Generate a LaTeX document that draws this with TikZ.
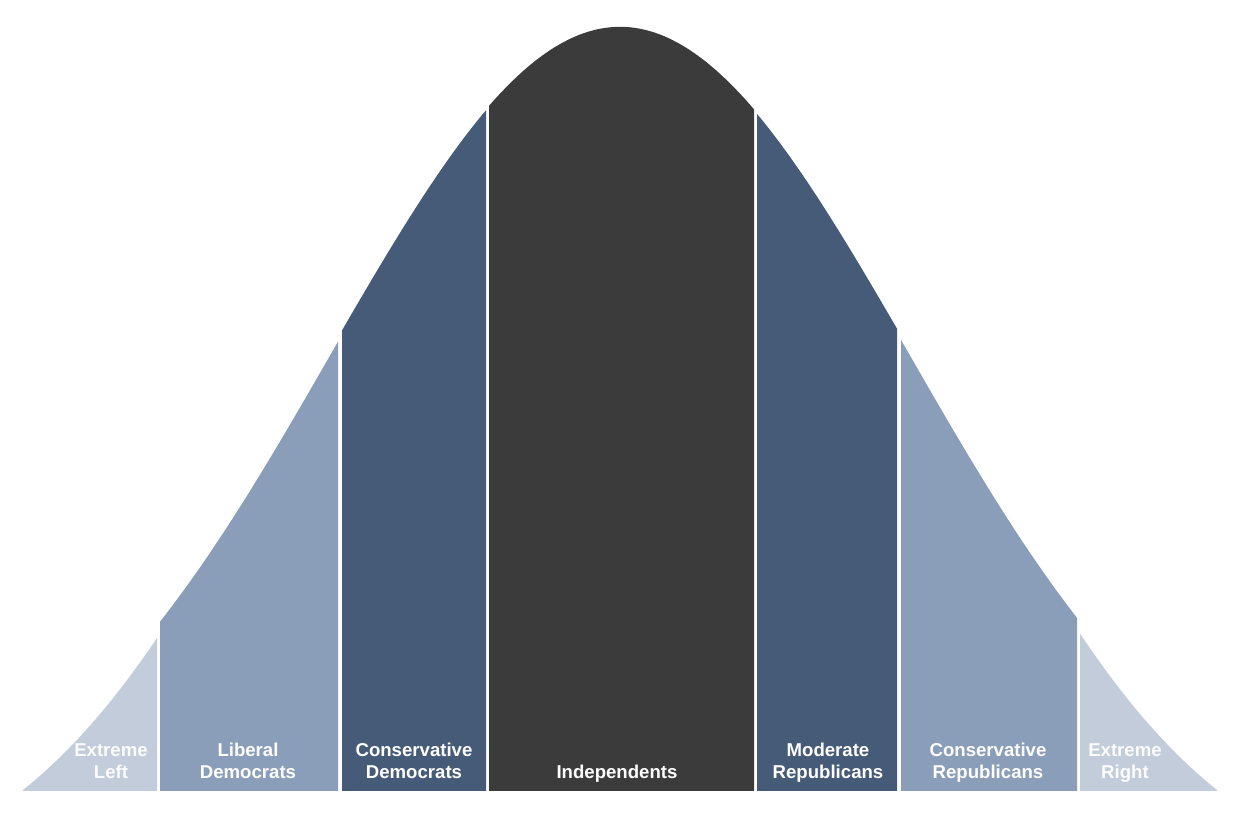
\documentclass[tikz,border=0pt]{standalone}
\usepackage{fontspec}
\setmainfont{Liberation Sans}
\definecolor{cLight}{RGB}{195,204,218}
\definecolor{cMid}{RGB}{138,158,186}
\definecolor{cDark}{RGB}{70,91,120}
\definecolor{cInd}{RGB}{59,59,59}
\begin{document}
\begin{tikzpicture}[x=0.5pt,y=-0.5pt,
  declare function={hm(\x,\k)=823*exp(-((\x-620)/100)^2/\k)-60;
                    he(\x)=973*exp(-((\x-620)/100)^2/16.3146)-109.5;},
  lbl/.style={text=white, font=\bfseries\fontsize{9.3}{11}\selectfont, align=center, inner sep=0pt, anchor=base},
  lbllight/.style={lbl, text=white!95!cLight}]
\useasboundingbox (0,0) rectangle (1250,823);
\fill[white] (0,0) rectangle (1250,823);
% bands
\fill[cLight] (23,791) -- plot[domain=23:157,samples=60] (\x,{790-he(\x)}) -- (157,791) -- cycle;
\fill[cMid] (160,791) -- plot[domain=160:338,samples=60] (\x,{790-hm(\x,16.5)}) -- (338,791) -- cycle;
\fill[cDark] (342,791) -- plot[domain=342:486,samples=60] (\x,{790-hm(\x,16.8)}) -- (486,791) -- cycle;
\fill[cInd] (489,791) -- plot[domain=489:754,samples=100] (\x,{790-hm(\x,17.0)}) -- (754,791) -- cycle;
\fill[cDark] (757,791) -- plot[domain=757:897,samples=60] (\x,{790-hm(\x,16.8)}) -- (897,791) -- cycle;
\fill[cMid] (901,791) -- plot[domain=901:1077,samples=60] (\x,{790-hm(\x,16.5)}) -- (1077,791) -- cycle;
\fill[cLight] (1080,791) -- plot[domain=1080:1217,samples=60] (\x,{790-he(\x)}) -- (1217,791) -- cycle;
% labels
\node[lbllight] (el) at (111,779) {Extreme\\Left};
\node[lbl] (ld) at (248,779) {Liberal\\Democrats};
\node[lbl] (cd) at (414,779) {Conservative\\Democrats};
\node[lbl] (ind) at (617,779) {Independents};
\node[lbl] (mr) at (828,779) {Moderate\\Republicans};
\node[lbl] (cr) at (988,779) {Conservative\\Republicans};
\node[lbllight] (er) at (1125,779) {Extreme\\Right};
\end{tikzpicture}
\end{document}
